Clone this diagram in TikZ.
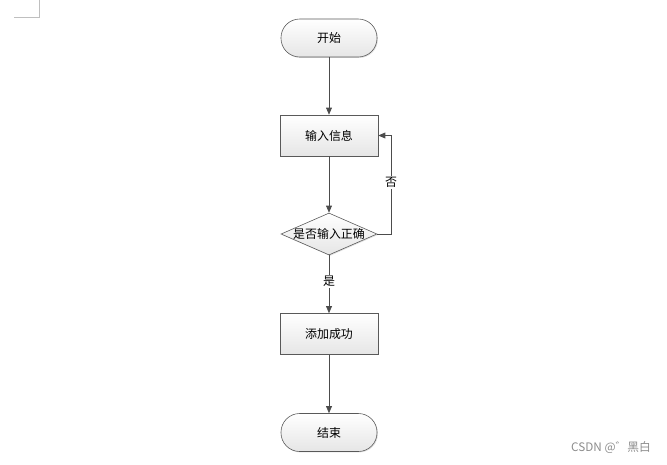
\documentclass[tikz,border=0pt]{standalone}
\usepackage{fontspec}
\setmainfont{Noto Sans CJK SC}
\usetikzlibrary{arrows.meta,shapes.geometric,shadows}

\tikzset{
  flowline/.style={draw=black!70,line width=0.6pt},
  flowarrow/.style={flowline,-{Triangle[width=5pt,length=6pt]}},
  boxfill/.style={draw=black!65,line width=0.5pt,top color=white,bottom color=black!10,
    drop shadow={opacity=0.25,shadow xshift=0.8pt,shadow yshift=-0.8pt}},
  terminal/.style={boxfill,rectangle,rounded corners=0.56cm,minimum width=2.88cm,
    minimum height=1.14cm,font=\fontsize{10.2}{12}\selectfont},
  process/.style={boxfill,rectangle,minimum width=2.94cm,minimum height=1.23cm,
    font=\fontsize{10.2}{12}\selectfont},
  decision/.style={boxfill,diamond,minimum width=2.88cm,minimum height=1.26cm,inner sep=0pt},
  edgelabel/.style={fill=white,inner sep=1pt,font=\fontsize{10.2}{12}\selectfont}
}

\begin{document}
\begin{tikzpicture}[x=0.03cm,y=-0.03cm]
    \useasboundingbox (0,0) rectangle (667,464);
    % corner mark
    \draw[black!25,line width=0.5pt] (14,17) -- (39,17) -- (39,0);
    % shapes
    \node[terminal] (start) at (329,38) {开始};
    \node[process] (input) at (329,135.5) {输入信息};
    \node[decision,label={[font=\fontsize{10.2}{12}\selectfont]center:是否输入正确}] (check) at (329,234) {};
    \node[process] (success) at (329,334) {添加成功};
    \node[terminal] (finish) at (329,432.5) {结束};
    % connectors
    \draw[flowarrow] (start) -- (input);
    \draw[flowarrow] (input) -- (check);
    \draw[flowarrow] (check) -- node[edgelabel,pos=0.45] {是} (success);
    \draw[flowarrow] (success) -- (finish);
    \coordinate (loopright) at (391,0);
    \draw[flowarrow] (check.east) -- (check.east -| loopright)
      -- node[edgelabel,pos=0.52] {否} (input.east -| loopright) -- (input.east);
    % watermark
    \node[black!45,font=\fontsize{10}{12}\selectfont] (mark) at (611,448) {CSDN @゛黑白};
\end{tikzpicture}
\end{document}
